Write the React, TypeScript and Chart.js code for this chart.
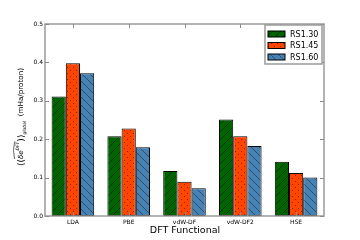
import React, { useEffect, useRef } from "react";
import { Chart, registerables } from "chart.js";

Chart.register(...registerables);

const categories = ["LDA", "PBE", "vdW-DF", "vdW-DF2", "HSE"];
const seriesLabels = ["RS1.30", "RS1.45", "RS1.60"];
const rs130 = [0.311, 0.208, 0.117, 0.251, 0.141];
const rs145 = [0.398, 0.228, 0.089, 0.208, 0.112];
const rs160 = [0.372, 0.179, 0.072, 0.182, 0.1];
const yTicks = [0, 0.1, 0.2, 0.3, 0.4, 0.5];

const FONT = "'DejaVu Sans', sans-serif";

function makeHatch(kind: string): CanvasPattern | string {
  const c = document.createElement("canvas");
  const s = kind === "dots" ? 6 : 8;
  c.width = s;
  c.height = s;
  const g = c.getContext("2d")!;
  if (kind === "fwd") {
    g.fillStyle = "#006400";
    g.fillRect(0, 0, s, s);
    g.strokeStyle = "rgba(0,0,0,0.45)";
    g.lineWidth = 1;
    g.beginPath();
    g.moveTo(-1, s + 1);
    g.lineTo(s + 1, -1);
    g.moveTo(-1, 1);
    g.lineTo(1, -1);
    g.moveTo(s - 1, s + 1);
    g.lineTo(s + 1, s - 1);
    g.stroke();
  } else if (kind === "back") {
    g.fillStyle = "#4682b4";
    g.fillRect(0, 0, s, s);
    g.strokeStyle = "rgba(0,0,0,0.4)";
    g.lineWidth = 1;
    g.beginPath();
    g.moveTo(-1, -1);
    g.lineTo(s + 1, s + 1);
    g.moveTo(s - 1, -1);
    g.lineTo(s + 1, 1);
    g.moveTo(-1, s - 1);
    g.lineTo(1, s + 1);
    g.stroke();
  } else {
    g.fillStyle = "#ff4500";
    g.fillRect(0, 0, s, s);
    g.fillStyle = "rgba(90,20,0,0.7)";
    g.fillRect(1, 1, 1, 1);
    g.fillRect(4, 4, 1, 1);
  }
  return g.createPattern(c, "repeat") || "#000";
}

const decorPlugin = {
  id: "decor",
  afterDraw(chart: any) {
    const ctx = chart.ctx as CanvasRenderingContext2D;
    const a = chart.chartArea;
    const ys = chart.scales.y;
    const xs = chart.scales.x;
    ctx.save();
    // frame
    ctx.strokeStyle = "#9a9a9a";
    ctx.lineWidth = 1.5;
    ctx.strokeRect(a.left, a.top, a.right - a.left, a.bottom - a.top);
    // inner ticks
    ctx.lineWidth = 1;
    ctx.strokeStyle = "#8a8a8a";
    ctx.beginPath();
    yTicks.forEach((v) => {
      const y = Math.round(ys.getPixelForValue(v)) + 0.5;
      ctx.moveTo(a.left, y);
      ctx.lineTo(a.left + 4, y);
      ctx.moveTo(a.right, y);
      ctx.lineTo(a.right - 4, y);
    });
    categories.forEach((_, i) => {
      const x = Math.round(xs.getPixelForValue(i)) + 0.5;
      ctx.moveTo(x, a.top);
      ctx.lineTo(x, a.top + 4);
      ctx.moveTo(x, a.bottom);
      ctx.lineTo(x, a.bottom - 4);
    });
    ctx.stroke();

    // legend
    const lx = 265, ly = 25, lw = 57, lh = 39;
    ctx.fillStyle = "#fff";
    ctx.fillRect(lx, ly, lw, lh);
    ctx.strokeStyle = "#9a9a9a";
    ctx.lineWidth = 1.5;
    ctx.strokeRect(lx, ly, lw, lh);
    chart.data.datasets.forEach((ds: any, i: number) => {
      const cy = 34 + i * 11.5;
      ctx.fillStyle = ds.backgroundColor;
      ctx.fillRect(268, cy - 3, 17, 6);
      ctx.strokeStyle = "#000";
      ctx.lineWidth = 1;
      ctx.strokeRect(268, cy - 3, 17, 6);
      ctx.fillStyle = "#000";
      ctx.font = `8px ${FONT}`;
      ctx.textBaseline = "middle";
      ctx.textAlign = "left";
      ctx.fillText(ds.label, 290, cy + 0.5);
    });

    // x title
    ctx.fillStyle = "#000";
    ctx.font = `9.5px ${FONT}`;
    ctx.textAlign = "center";
    ctx.textBaseline = "middle";
    ctx.fillText("DFT Functional", 185, 231);

    // y title (rotated, with math pieces)
    ctx.translate(23, 117);
    ctx.rotate(-Math.PI / 2);
    const pieces: [string, string, number][] = [
      ["⟨(", `9px ${FONT}`, 1],
      ["δe", `italic 7px ${FONT}`, 0],
      ["DFT", `italic 4.5px ${FONT}`, -4.5],
      [")⟩", `9px ${FONT}`, 1],
      ["global", `italic 4.5px ${FONT}`, 2.5],
      ["  (mHa/proton)", `7.2px ${FONT}`, 0],
    ];
    let total = 0;
    const widths = pieces.map(([t, f]) => {
      ctx.font = f;
      const w = ctx.measureText(t).width;
      total += w;
      return w;
    });
    let x = -total / 2;
    ctx.textAlign = "left";
    ctx.textBaseline = "alphabetic";
    pieces.forEach(([t, f, dy], i) => {
      ctx.font = f;
      ctx.fillText(t, x, dy);
      if (t === "δe") {
        const w = widths[i] + widths[i + 1];
        ctx.strokeStyle = "#000";
        ctx.lineWidth = 0.6;
        ctx.beginPath();
        ctx.moveTo(x, -8.5);
        ctx.quadraticCurveTo(x + w / 2, -10.5, x + w, -8.5);
        ctx.stroke();
      }
      x += widths[i];
    });
    ctx.restore();
  },
};

export default function App() {
  const ref = useRef<HTMLCanvasElement>(null);
  useEffect(() => {
    document.body.style.margin = "0";
    const fwd = makeHatch("fwd");
    const dots = makeHatch("dots");
    const back = makeHatch("back");
    const chart = new Chart(ref.current!, {
      type: "bar",
      data: {
        labels: categories,
        datasets: [
          { label: seriesLabels[0], data: rs130, backgroundColor: fwd as any },
          { label: seriesLabels[1], data: rs145, backgroundColor: dots as any },
          { label: seriesLabels[2], data: rs160, backgroundColor: back as any },
        ].map((d) => ({
          ...d,
          borderColor: "#000",
          borderWidth: 1,
          borderSkipped: false as any,
          categoryPercentage: 0.763,
          barPercentage: 1,
        })),
      },
      options: {
        responsive: false,
        animation: false,
        layout: { padding: { top: 24, right: 36, left: 0, bottom: 0 } },
        plugins: { legend: { display: false }, tooltip: { enabled: false } },
        scales: {
          x: {
            grid: { display: false, drawTicks: false },
            border: { display: false },
            ticks: { color: "#000", font: { family: FONT, size: 6 }, padding: 3, maxRotation: 0 },
            afterFit: (s: any) => {
              s.height = 24;
            },
          },
          y: {
            min: 0,
            max: 0.5,
            grid: { display: false, drawTicks: false },
            border: { display: false },
            ticks: {
              stepSize: 0.1,
              color: "#000",
              font: { family: FONT, size: 6 },
              padding: 2,
              callback: (v: any) => Number(v).toFixed(1),
            },
            afterFit: (s: any) => {
              s.width = 45;
            },
          },
        },
      },
      plugins: [decorPlugin],
    });
    return () => chart.destroy();
  }, []);
  return <canvas ref={ref} width={360} height={240} style={{ display: "block" }} />;
}
